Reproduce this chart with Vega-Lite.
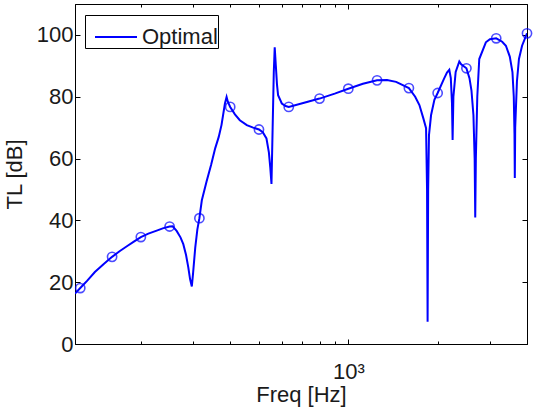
{
  "$schema": "https://vega.github.io/schema/vega-lite/v6.json",
  "width": 452,
  "height": 340,
  "autosize": {"type": "none"},
  "padding": {"left": 75, "top": 4, "right": 7, "bottom": 63},
  "background": "white",
  "config": {
    "view": {"stroke": "black", "strokeWidth": 1},
    "font": "Liberation Sans",
    "axis": {"grid": false, "domainColor": "black", "tickColor": "black", "labelColor": "#1a1a1a", "titleColor": "#1a1a1a", "labelFont": "Liberation Sans", "titleFont": "Liberation Sans", "labelFontSize": 22, "titleFontSize": 22, "titleFontWeight": "normal"}
  },
  "datasets": {
    "curve": [
      {"f": 120, "tl": 16.3}, {"f": 125, "tl": 18.1}, {"f": 132, "tl": 20.5}, {"f": 140, "tl": 23.3},
      {"f": 150, "tl": 25.9}, {"f": 160, "tl": 28.2}, {"f": 170, "tl": 30.1}, {"f": 180, "tl": 31.7},
      {"f": 190, "tl": 33.2}, {"f": 200, "tl": 34.6}, {"f": 212, "tl": 35.7}, {"f": 225, "tl": 36.6},
      {"f": 237, "tl": 37.4}, {"f": 250, "tl": 38.0}, {"f": 256, "tl": 38.1}, {"f": 264, "tl": 36.6},
      {"f": 272, "tl": 34.5}, {"f": 278, "tl": 32.3}, {"f": 284, "tl": 28.8}, {"f": 289, "tl": 24.8},
      {"f": 293, "tl": 21.0}, {"f": 297, "tl": 18.6}, {"f": 300, "tl": 23.0}, {"f": 305, "tl": 31.2},
      {"f": 310, "tl": 37.0}, {"f": 315, "tl": 40.7}, {"f": 321, "tl": 46.5}, {"f": 333, "tl": 52.6},
      {"f": 345, "tl": 58.0}, {"f": 356, "tl": 63.3}, {"f": 366, "tl": 67.0}, {"f": 374, "tl": 70.9},
      {"f": 384, "tl": 77.8}, {"f": 389, "tl": 79.9}, {"f": 393, "tl": 78.3}, {"f": 400, "tl": 76.7},
      {"f": 415, "tl": 74.3}, {"f": 431, "tl": 72.4}, {"f": 455, "tl": 70.8}, {"f": 478, "tl": 70.0},
      {"f": 500, "tl": 69.4}, {"f": 515, "tl": 68.5}, {"f": 530, "tl": 66.5}, {"f": 540, "tl": 62.0},
      {"f": 546, "tl": 57.0}, {"f": 551, "tl": 51.8}, {"f": 556, "tl": 70.0}, {"f": 561, "tl": 88.0},
      {"f": 565, "tl": 96.0}, {"f": 570, "tl": 90.0}, {"f": 575, "tl": 84.0}, {"f": 580, "tl": 80.5},
      {"f": 597, "tl": 77.8}, {"f": 615, "tl": 77.0}, {"f": 630, "tl": 76.7}, {"f": 700, "tl": 77.9},
      {"f": 800, "tl": 79.4}, {"f": 900, "tl": 81.0}, {"f": 1000, "tl": 82.6}, {"f": 1120, "tl": 84.2},
      {"f": 1250, "tl": 85.3}, {"f": 1350, "tl": 85.4}, {"f": 1449, "tl": 84.8}, {"f": 1600, "tl": 82.8},
      {"f": 1680, "tl": 80.0}, {"f": 1736, "tl": 77.3}, {"f": 1790, "tl": 73.0}, {"f": 1828, "tl": 69.8},
      {"f": 1842, "tl": 50.0}, {"f": 1850, "tl": 7.2}, {"f": 1858, "tl": 50.0}, {"f": 1870, "tl": 67.6},
      {"f": 1900, "tl": 74.0}, {"f": 1950, "tl": 79.0}, {"f": 2000, "tl": 81.2}, {"f": 2100, "tl": 85.8},
      {"f": 2150, "tl": 87.8}, {"f": 2189, "tl": 88.7}, {"f": 2215, "tl": 86.0}, {"f": 2235, "tl": 78.0},
      {"f": 2246, "tl": 66.0}, {"f": 2260, "tl": 80.0}, {"f": 2300, "tl": 88.0}, {"f": 2366, "tl": 91.4},
      {"f": 2400, "tl": 90.5}, {"f": 2500, "tl": 89.2}, {"f": 2560, "tl": 86.0}, {"f": 2600, "tl": 82.0},
      {"f": 2640, "tl": 74.0}, {"f": 2665, "tl": 60.0}, {"f": 2677, "tl": 40.9}, {"f": 2690, "tl": 60.0},
      {"f": 2720, "tl": 80.0}, {"f": 2762, "tl": 92.2}, {"f": 2907, "tl": 97.6}, {"f": 3000, "tl": 98.6},
      {"f": 3150, "tl": 98.9}, {"f": 3300, "tl": 97.8}, {"f": 3396, "tl": 96.5}, {"f": 3500, "tl": 93.0},
      {"f": 3573, "tl": 88.0}, {"f": 3610, "tl": 80.0}, {"f": 3630, "tl": 68.0}, {"f": 3639, "tl": 53.7},
      {"f": 3650, "tl": 70.0}, {"f": 3700, "tl": 85.0}, {"f": 3758, "tl": 92.2}, {"f": 3850, "tl": 96.5},
      {"f": 4000, "tl": 100.5}
    ],
    "bands": [
      {"f": 125, "tl": 18.1}, {"f": 160, "tl": 28.2}, {"f": 200, "tl": 34.6}, {"f": 250, "tl": 38.0},
      {"f": 315, "tl": 40.7}, {"f": 400, "tl": 76.7}, {"f": 500, "tl": 69.4}, {"f": 630, "tl": 76.7},
      {"f": 800, "tl": 79.4}, {"f": 1000, "tl": 82.6}, {"f": 1250, "tl": 85.3}, {"f": 1600, "tl": 82.8},
      {"f": 2000, "tl": 81.2}, {"f": 2500, "tl": 89.2}, {"f": 3150, "tl": 98.9}, {"f": 4000, "tl": 100.5}
    ]
  },
  "layer": [
    {
      "data": {"name": "curve"},
      "mark": {"type": "line", "strokeWidth": 2, "clip": true},
      "encoding": {
        "x": {"field": "f", "type": "quantitative",
          "scale": {"type": "log", "domain": [120, 4000], "nice": false},
          "axis": {"orient": "bottom", "title": "Freq [Hz]", "values": [200, 300, 400, 500, 600, 700, 800, 900, 1000, 2000, 3000],
            "labelExpr": "datum.value == 1000 ? '10³' : ''",
            "tickSize": {"condition": {"test": "datum.value == 1000", "value": -5}, "value": -3},
            "labelPadding": 22, "titlePadding": 2}},
        "y": {"field": "tl", "type": "quantitative",
          "scale": {"domain": [0, 110], "nice": false},
          "axis": {"orient": "left", "title": "TL [dB]", "values": [0, 20, 40, 60, 80, 100], "tickSize": -5, "labelPadding": 7, "titlePadding": 10}},
        "color": {"datum": "Optimal", "type": "nominal",
          "scale": {"range": ["#0000ff"]},
          "legend": {"title": null, "orient": "none", "legendX": 10, "legendY": 11,
            "strokeColor": "black", "fillColor": "white", "padding": 0,
            "symbolType": "stroke", "symbolSize": 1764, "symbolStrokeWidth": 2, "symbolOffset": 9,
            "labelExpr": "datum.label + '\u00a0\u00a0'",
            "labelFontSize": 22, "labelFont": "Liberation Sans", "labelColor": "#1a1a1a", "labelOffset": 4}}
      }
    },
    {
      "data": {"name": "bands"},
      "mark": {"type": "point", "filled": false, "size": 85, "strokeWidth": 1.6, "color": "#0000ff"},
      "encoding": {
        "x": {"field": "f", "type": "quantitative",
          "scale": {"type": "log", "domain": [120, 4000], "nice": false},
          "axis": {"orient": "top", "title": null, "labels": false, "values": [200, 300, 400, 500, 600, 700, 800, 900, 1000, 2000, 3000],
            "tickSize": {"condition": {"test": "datum.value == 1000", "value": -5}, "value": -3}}},
        "y": {"field": "tl", "type": "quantitative",
          "scale": {"domain": [0, 110], "nice": false},
          "axis": {"orient": "right", "title": null, "labels": false, "values": [0, 20, 40, 60, 80, 100], "tickSize": -5}}
      }
    }
  ],
  "resolve": {"axis": {"x": "independent", "y": "independent"}}
}
